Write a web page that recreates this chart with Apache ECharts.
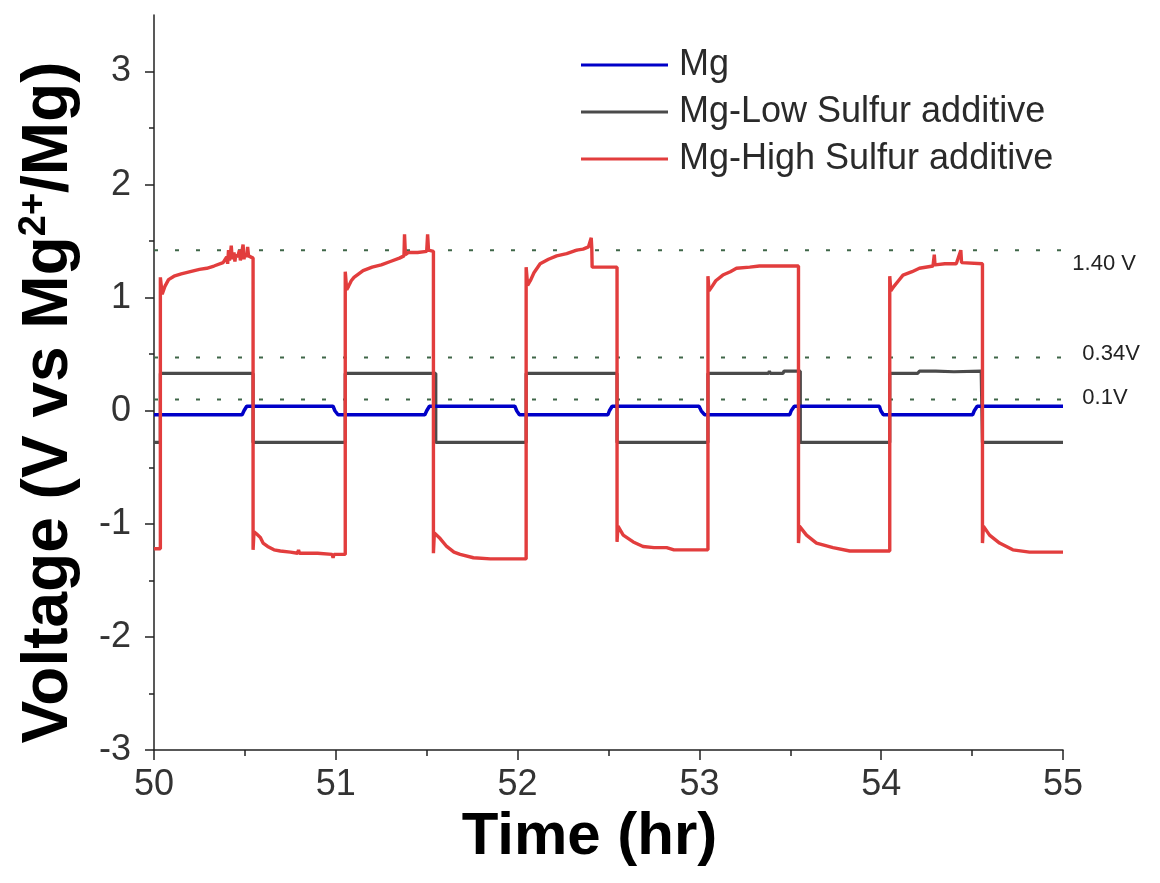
<!DOCTYPE html>
<html>
<head>
<meta charset="utf-8">
<script src="https://cdn.jsdelivr.net/npm/echarts@6/dist/echarts.min.js"></script>
<style>
html,body{margin:0;padding:0;background:#fff;}
#chart{width:1160px;height:883px;}
</style>
</head>
<body>
<div id="chart"></div>
<script>
// ---------- data ----------
const seriesNames = ['Mg', 'Mg-Low Sulfur additive', 'Mg-High Sulfur additive'];

const timeMg = [50,50.485,50.495,50.51,50.985,50.995,51.012,51.49,51.5,51.515,51.985,51.995,52.01,52.497,52.505,52.52,52.998,53.01,53.028,53.497,53.505,53.522,53.99,53.998,54.012,54.503,54.512,54.528,55];
const voltMg = [-0.035,-0.035,0.0,0.04,0.04,0.0,-0.035,-0.035,0.0,0.04,0.04,0.0,-0.035,-0.035,0.0,0.04,0.04,0.0,-0.035,-0.035,0.0,0.04,0.04,0.0,-0.035,-0.035,0.0,0.04,0.04];

const timeLowS = [50,50.035,50.035,50.545,50.545,51.052,51.052,51.55,51.55,52.047,52.047,52.547,52.547,53.047,53.047,53.38,53.385,53.39,53.46,53.465,53.47,53.52,53.555,53.555,54.047,54.047,54.2,54.21,54.22,54.3,54.4,54.55,54.557,54.557,55];
const voltLowS = [-0.28,-0.28,0.33,0.33,-0.28,-0.28,0.33,0.33,-0.28,-0.28,0.33,0.33,-0.28,-0.28,0.33,0.33,0.35,0.33,0.33,0.35,0.34,0.35,0.35,-0.28,-0.28,0.33,0.33,0.35,0.34,0.35,0.345,0.35,0.35,-0.28,-0.28];

const timeHighS = [50,50.035,
 50.035,50.045,50.06,50.08,50.11,50.15,50.2,50.25,50.29,50.33,50.38,50.39,50.4,50.405,50.41,50.415,50.42,50.425,50.43,50.44,50.445,50.45,50.46,50.47,50.475,50.48,50.49,50.495,50.5,50.51,50.515,50.52,50.53,50.545,
 50.545,50.55,50.565,50.585,50.6,50.625,50.66,50.695,50.75,50.79,50.795,50.8,50.9,50.98,50.985,50.99,51.052,
 51.052,51.06,51.07,51.085,51.1,51.15,51.2,51.25,51.3,51.35,51.375,51.378,51.383,51.4,51.45,51.5,51.505,51.51,51.537,
 51.537,51.542,51.574,51.61,51.65,51.684,51.757,51.85,52.047,
 52.047,52.055,52.07,52.09,52.124,52.17,52.215,52.27,52.325,52.36,52.39,52.405,52.408,52.41,52.547,
 52.547,52.552,52.581,52.636,52.69,52.75,52.82,52.86,53.047,
 53.047,53.053,53.07,53.09,53.129,53.17,53.204,53.277,53.33,53.545,
 53.545,53.55,53.589,53.644,53.735,53.827,54.047,
 54.047,54.053,54.07,54.095,54.12,54.17,54.21,54.285,54.292,54.296,54.35,54.413,54.438,54.442,54.557,
 54.557,54.562,54.596,54.651,54.724,54.816,55];
const voltHighS = [-1.22,-1.22,
 1.18,1.03,1.10,1.16,1.19,1.21,1.23,1.25,1.26,1.28,1.31,1.30,1.36,1.30,1.42,1.33,1.38,1.46,1.34,1.40,1.32,1.38,1.36,1.42,1.33,1.37,1.47,1.34,1.39,1.36,1.45,1.37,1.36,1.35,
 -1.23,-1.07,-1.09,-1.12,-1.17,-1.20,-1.23,-1.24,-1.25,-1.26,-1.23,-1.26,-1.26,-1.27,-1.30,-1.27,-1.27,
 1.23,1.07,1.10,1.15,1.18,1.24,1.27,1.29,1.32,1.35,1.37,1.56,1.38,1.40,1.40,1.41,1.56,1.42,1.41,
 -1.26,-1.08,-1.13,-1.20,-1.25,-1.27,-1.30,-1.31,-1.31,
 1.27,1.11,1.15,1.22,1.30,1.34,1.37,1.39,1.42,1.43,1.45,1.53,1.44,1.27,1.27,
 -1.16,-1.02,-1.10,-1.16,-1.20,-1.21,-1.21,-1.23,-1.23,
 1.19,1.06,1.10,1.15,1.20,1.23,1.26,1.27,1.28,1.28,
 -1.17,-1.02,-1.10,-1.17,-1.21,-1.24,-1.24,
 1.19,1.06,1.10,1.15,1.20,1.23,1.26,1.28,1.38,1.29,1.30,1.30,1.42,1.31,1.30,
 -1.17,-1.02,-1.10,-1.17,-1.23,-1.25,-1.25];

const refVolt = [1.42, 0.47, 0.10];
const refLabels = ['1.40 V', '0.34V', '0.1V'];
const refStart = 50, refEnd = 55.09;

const xTicksMajor = [50, 51, 52, 53, 54, 55];
const yTicksMajor = [-3, -2, -1, 0, 1, 2, 3];
const yTicksMinor = [-2.5, -1.5, -0.5, 0.5, 1.5, 2.5];

// ---------- build ----------
const zip = (a, b) => a.map((t, i) => [t, b[i]]);
const colors = ['#0000c8', '#4a4a4a', '#e23d3d'];
const FONT = '"Liberation Sans", Arial, sans-serif';

const chart = echarts.init(document.getElementById('chart'), null, {renderer: 'canvas'});

const refSeries = refVolt.map((v, i) => ({
  name: 'ref' + i, type: 'line', data: [[refStart, v], [refEnd, v]], clip: false, z: 1, silent: true,
  symbol: 'none', lineStyle: {color: '#3f6648', width: 2, type: [4, 17]}
}));

const option = {
  animation: false,
  backgroundColor: '#fff',
  grid: {left: 154, right: 97, top: 15, bottom: 133, containLabel: false},
  legend: {
    data: seriesNames.map(n => ({name: n, icon: 'rect'})),
    orient: 'vertical',
    left: 576, top: 42,
    itemWidth: 87, itemHeight: 3, itemGap: 11,
    textStyle: {fontFamily: FONT, fontSize: 36, color: '#2a2a2a', lineHeight: 36, padding: [0, 0, 0, 6]},
    selectedMode: false
  },
  xAxis: {
    type: 'value', min: 50, max: 55, interval: 1,
    name: 'Time (hr)', nameLocation: 'middle', nameGap: 53,
    nameTextStyle: {fontFamily: FONT, fontSize: 60, fontWeight: 'bold', color: '#000', padding: [0, 38, 0, 0]},
    axisLine: {show: true, onZero: false, lineStyle: {color: '#222', width: 1.5}},
    axisTick: {show: true, inside: false, length: 10, lineStyle: {color: '#222', width: 1.5}},
    minorTick: {show: true, splitNumber: 2, length: 6, lineStyle: {color: '#222', width: 1.5}},
    axisLabel: {fontFamily: FONT, fontSize: 36, color: '#333', margin: 17,
      customValues: xTicksMajor},
    splitLine: {show: false}
  },
  yAxis: [{
    type: 'value', min: -3, max: 3.5, interval: 1,
    name: 'Voltage (V vs Mg{sup|2+}/Mg)', nameLocation: 'middle', nameGap: 72, nameRotate: 90,
    nameTextStyle: {fontFamily: FONT, fontSize: 64, fontWeight: 'bold', color: '#000', padding: [0, 40, 0, 0],
      rich: {sup: {fontFamily: FONT, fontSize: 38, fontWeight: 'bold', color: '#000', verticalAlign: 'top', padding: [0, 0, 28, 0]}}},
    axisLine: {show: true, onZero: false, lineStyle: {color: '#222', width: 1.5}},
    axisTick: {show: true, inside: false, length: 9, lineStyle: {color: '#222', width: 1.5}, customValues: yTicksMajor},
    axisLabel: {fontFamily: FONT, fontSize: 36, color: '#333', margin: 23, customValues: yTicksMajor},
    splitLine: {show: false}
  }, {
    type: 'value', min: -3, max: 3.5, position: 'left',
    axisLine: {show: false},
    axisTick: {show: true, inside: false, length: 5, lineStyle: {color: '#222', width: 1.5}, customValues: yTicksMinor},
    axisLabel: {show: false},
    splitLine: {show: false}
  }],
  series: refSeries.concat([
    {name: seriesNames[1], type: 'line', data: zip(timeLowS, voltLowS), symbol: 'none', color: colors[1],
      lineStyle: {width: 3.2, color: colors[1]}, z: 2},
    {name: seriesNames[0], type: 'line', data: zip(timeMg, voltMg), symbol: 'none', color: colors[0],
      lineStyle: {width: 3.5, color: colors[0]}, z: 3},
    {name: seriesNames[2], type: 'line', data: zip(timeHighS, voltHighS), symbol: 'none', color: colors[2],
      lineStyle: {width: 3.4, color: colors[2]}, z: 4}
  ])
};
chart.setOption(option);

// annotation texts at reference lines
const lblOffsets = [[-7, 14], [3, -4], [3, -2]];
const graphics = refVolt.map((v, i) => {
  const p = chart.convertToPixel({gridIndex: 0}, [refEnd, v]);
  return {
    type: 'text',
    x: p[0] + lblOffsets[i][0], y: p[1] + lblOffsets[i][1],
    style: {text: refLabels[i], fontFamily: FONT, fontSize: 22, fill: '#222', textVerticalAlign: 'middle', textAlign: 'left'}
  };
});
chart.setOption({graphic: graphics});
</script>
</body>
</html>
